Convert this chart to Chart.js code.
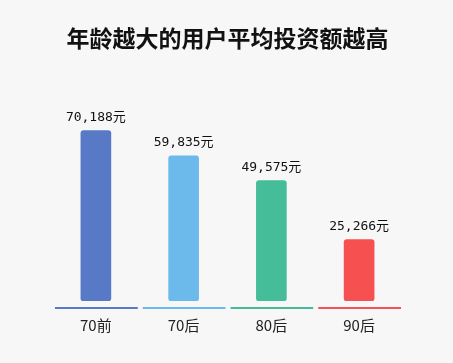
<!DOCTYPE html>
<html>
<head>
<meta charset="utf-8">
<script src="https://cdn.jsdelivr.net/npm/chart.js@4.4.1/dist/chart.umd.min.js"></script>
<style>
    html, body { margin: 0; padding: 0; background: #f7f7f7; }
    #wrap { width: 453px; height: 363px; }
</style>
</head>
<body>
<div id="wrap"><canvas id="ageChart"></canvas></div>
<script>
// data
const categories = ['70前', '70后', '80后', '90后'];
const avgInvest = [70188, 59835, 49575, 25266];
const barColors = ['#5779c6', '#6cbaec', '#45bd98', '#f65050'];

// background + labels above bars + coloured baseline per category
const decorPlugin = {
    id: 'decor',
    beforeDraw(chart) {
        const c = chart.ctx;
        c.save();
        c.fillStyle = '#f7f7f7';
        c.fillRect(0, 0, chart.width, chart.height);
        c.restore();
    },
    afterDatasetsDraw(chart) {
        const c = chart.ctx;
        const x = chart.scales.x;
        const y = chart.scales.y;
        const step = x.width / categories.length;
        const base = y.getPixelForValue(0) + 7;
        c.save();
        c.lineWidth = 2;
        categories.forEach((_, i) => {
            const cx = x.getPixelForValue(i);
            c.strokeStyle = barColors[i];
            c.beginPath();
            c.moveTo(cx - step / 2 + 3, base);
            c.lineTo(cx + step / 2 - 2, base);
            c.stroke();
        });
        c.font = '13px "DejaVu Sans Mono", "Noto Sans CJK SC", monospace';
        c.fillStyle = '#111';
        c.textAlign = 'center';
        c.textBaseline = 'middle';
        chart.getDatasetMeta(0).data.forEach((bar, i) => {
            const txt = avgInvest[i].toLocaleString('en-US') + '元';
            c.fillText(txt, bar.x, bar.y - 13);
        });
        c.restore();
    }
};

new Chart(document.getElementById('ageChart'), {
    type: 'bar',
    data: {
        labels: categories,
        datasets: [{
            data: avgInvest,
            backgroundColor: barColors,
            borderRadius: 3,
            borderSkipped: false,
            barThickness: 30
        }]
    },
    options: {
        responsive: true,
        maintainAspectRatio: false,
        animation: false,
        layout: { padding: { left: 52, right: 50, bottom: 22 } },
        scales: {
            x: {
                grid: { display: false },
                border: { display: false },
                ticks: {
                    padding: 7,
                    color: '#222',
                    font: { size: 15, family: '"Noto Sans CJK SC", "Noto Sans", sans-serif' }
                }
            },
            y: {
                display: false,
                min: 0,
                max: 90000
            }
        },
        plugins: {
            legend: { display: false },
            tooltip: { enabled: false },
            title: {
                display: true,
                text: '年龄越大的用户平均投资额越高',
                color: '#111',
                font: { size: 23, weight: 'bold', family: '"Noto Sans CJK SC", sans-serif' },
                padding: { top: 24, bottom: 31 }
            }
        }
    },
    plugins: [decorPlugin]
});
</script>
</body>
</html>
